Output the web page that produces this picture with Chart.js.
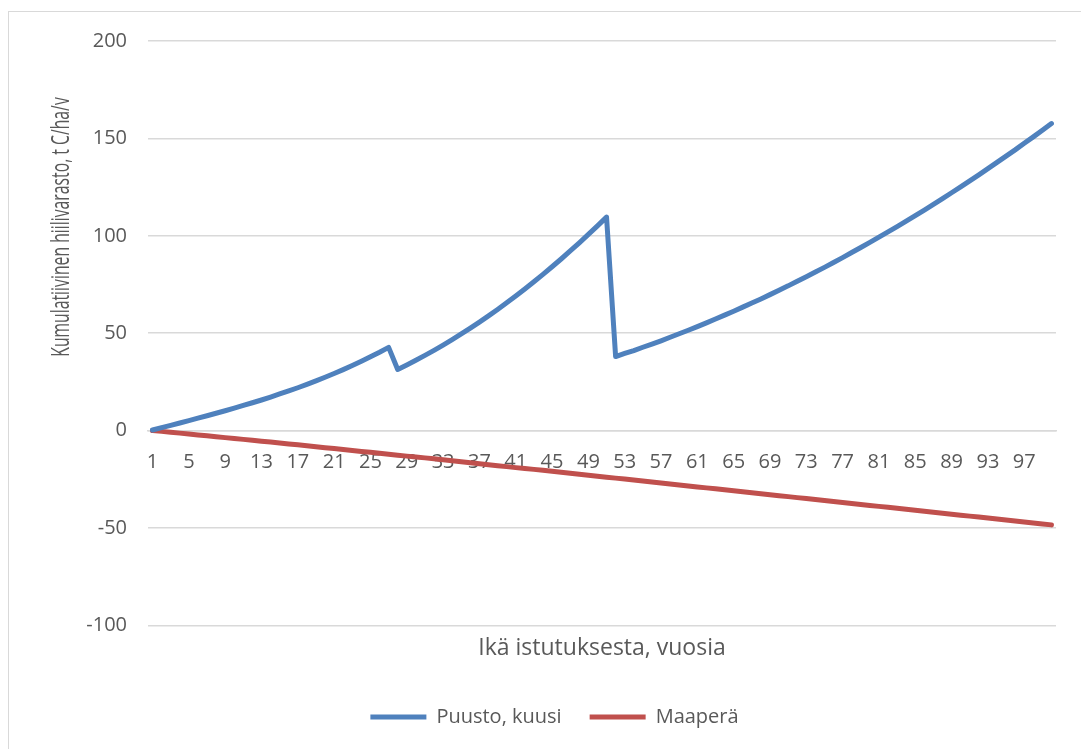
<!DOCTYPE html>
<html>
<head>
<meta charset="utf-8">
<title>Kumulatiivinen hiilivarasto</title>
<script src="https://cdn.jsdelivr.net/npm/chart.js@4.4.1/dist/chart.umd.min.js"></script>
<style>
  html, body { margin: 0; padding: 0; background: #fff; }
  #wrap { position: relative; width: 1081px; height: 749px; overflow: hidden; }
  #frame { position: absolute; left: 8px; top: 11px; width: 1100px; height: 800px; border: 1px solid #d9d9d9; }
  #chart { position: absolute; left: 0; top: 0; }
</style>
</head>
<body>
<div id="wrap">
  <div id="frame"></div>
  <canvas id="chart" width="1081" height="749"></canvas>
</div>
<script>
// Data
const years = [
  1, 2, 3, 4, 5, 6, 7, 8, 9, 10,
  11, 12, 13, 14, 15, 16, 17, 18, 19, 20,
  21, 22, 23, 24, 25, 26, 27, 28, 29, 30,
  31, 32, 33, 34, 35, 36, 37, 38, 39, 40,
  41, 42, 43, 44, 45, 46, 47, 48, 49, 50,
  51, 52, 53, 54, 55, 56, 57, 58, 59, 60,
  61, 62, 63, 64, 65, 66, 67, 68, 69, 70,
  71, 72, 73, 74, 75, 76, 77, 78, 79, 80,
  81, 82, 83, 84, 85, 86, 87, 88, 89, 90,
  91, 92, 93, 94, 95, 96, 97, 98, 99, 100
];

// Puusto, kuusi (t C/ha)
const puusto = [
  0.3, 1.5, 2.7, 3.9, 5.1, 6.4, 7.6, 8.9, 10.2, 11.5,
  12.9, 14.3, 15.7, 17.2, 18.8, 20.4, 22.0, 23.7, 25.5, 27.4,
  29.3, 31.3, 33.4, 35.6, 37.9, 40.2, 42.7, 31.4, 33.7, 36.1,
  38.6, 41.2, 43.9, 46.7, 49.6, 52.6, 55.7, 58.9, 62.2, 65.6,
  69.1, 72.7, 76.4, 80.2, 84.1, 88.1, 92.2, 96.4, 100.7, 105.1,
  109.6, 38.0, 39.6, 41.1, 42.8, 44.4, 46.1, 47.9, 49.7, 51.5,
  53.4, 55.3, 57.3, 59.3, 61.3, 63.4, 65.5, 67.6, 69.8, 72.1,
  74.3, 76.7, 79.0, 81.4, 83.8, 86.3, 88.8, 91.4, 94.0, 96.6,
  99.3, 102.0, 104.7, 107.5, 110.4, 113.2, 116.1, 119.1, 122.1, 125.1,
  128.2, 131.3, 134.5, 137.7, 140.9, 144.1, 147.5, 150.8, 154.2, 157.6
];

// Maaperä (t C/ha)
const maapera = [
  0, -0.4, -0.9, -1.3, -1.8, -2.2, -2.7, -3.1, -3.6, -4.1,
  -4.5, -5.0, -5.5, -5.9, -6.4, -6.9, -7.3, -7.8, -8.3, -8.8,
  -9.2, -9.7, -10.2, -10.7, -11.1, -11.6, -12.1, -12.6, -13.1, -13.6,
  -14.0, -14.5, -15.0, -15.5, -16.0, -16.5, -17.0, -17.5, -18.0, -18.5,
  -19.0, -19.4, -19.9, -20.4, -20.9, -21.4, -21.9, -22.4, -22.9, -23.4,
  -23.9, -24.4, -24.9, -25.4, -25.9, -26.4, -26.9, -27.4, -27.9, -28.4,
  -28.9, -29.4, -29.9, -30.4, -30.9, -31.4, -31.9, -32.4, -32.9, -33.4,
  -33.9, -34.4, -34.9, -35.4, -35.9, -36.4, -36.9, -37.4, -37.9, -38.4,
  -38.9, -39.4, -39.9, -40.4, -40.9, -41.4, -41.9, -42.4, -42.9, -43.4,
  -43.9, -44.4, -44.9, -45.4, -45.9, -46.4, -46.9, -47.4, -47.9, -48.4
];

const yMin = -100;
const yMax = 200;
const yStep = 50;
const xLabelEvery = 4;

const seriesNames = ['Puusto, kuusi', 'Maaperä'];
const xTitle = 'Ikä istutuksesta, vuosia';
const yTitle = 'Kumulatiivinen hiilivarasto, t C/ha/v';

const FONT = '"Open Sans", "DejaVu Sans", sans-serif';
const TEXT = '#595959';
const GRID = '#d9d9d9';

// Y title sits off-centre in the original, so draw it by hand
const yTitlePlugin = {
  id: 'yTitle',
  afterDraw(chart) {
    const ctx = chart.ctx;
    const area = chart.chartArea;
    ctx.save();
    ctx.fillStyle = TEXT;
    ctx.font = '25px ' + FONT;
    ctx.textAlign = 'center';
    ctx.textBaseline = 'middle';
    ctx.translate(62, area.top + 186);
    ctx.rotate(-Math.PI / 2);
    ctx.scale(0.63, 1);
    ctx.fillText(yTitle, 0, 0);
    ctx.restore();
  }
};

new Chart(document.getElementById('chart'), {
  type: 'line',
  data: {
    labels: years,
    datasets: [{
      label: seriesNames[0],
      data: puusto,
      borderColor: '#4F81BD',
      backgroundColor: '#4F81BD',
      borderWidth: 5,
      borderCapStyle: 'round',
      borderJoinStyle: 'round',
      pointRadius: 0,
      tension: 0
    }, {
      label: seriesNames[1],
      data: maapera,
      borderColor: '#C0504D',
      backgroundColor: '#C0504D',
      borderWidth: 5,
      borderCapStyle: 'round',
      borderJoinStyle: 'round',
      pointRadius: 0,
      tension: 0
    }]
  },
  options: {
    responsive: false,
    animation: false,
    layout: { padding: { left: 53, right: 25, top: 41, bottom: 12 } },
    scales: {
      x: {
        position: { y: 0 },
        offset: true,
        grid: { display: false, drawTicks: false },
        border: { display: true, color: GRID, width: 1.5 },
        ticks: {
          autoSkip: false,
          maxRotation: 0,
          minRotation: 0,
          padding: 20,
          color: TEXT,
          font: { family: FONT, size: 20 },
          callback: (val, i) => (i % xLabelEvery === 0 ? years[i] : '')
        }
      },
      y: {
        min: yMin,
        max: yMax,
        afterFit: (scale) => { scale.width = 95; },
        grid: { color: GRID, lineWidth: 1.5, drawTicks: false },
        border: { display: false },
        ticks: {
          stepSize: yStep,
          padding: 21,
          color: TEXT,
          font: { family: FONT, size: 20 }
        }
      }
    },
    plugins: {
      tooltip: { enabled: false },
      title: {
        display: true,
        text: xTitle,
        position: 'bottom',
        fullSize: false,
        weight: 500,
        color: TEXT,
        font: { family: FONT, size: 23, weight: 'normal' },
        padding: { top: 9, bottom: 17 }
      },
      legend: {
        position: 'bottom',
        labels: {
          usePointStyle: true,
          pointStyle: 'line',
          pointStyleWidth: 56,
          padding: 28,
          color: TEXT,
          font: { family: FONT, size: 20 }
        }
      }
    }
  },
  plugins: [yTitlePlugin]
});
</script>
</body>
</html>
